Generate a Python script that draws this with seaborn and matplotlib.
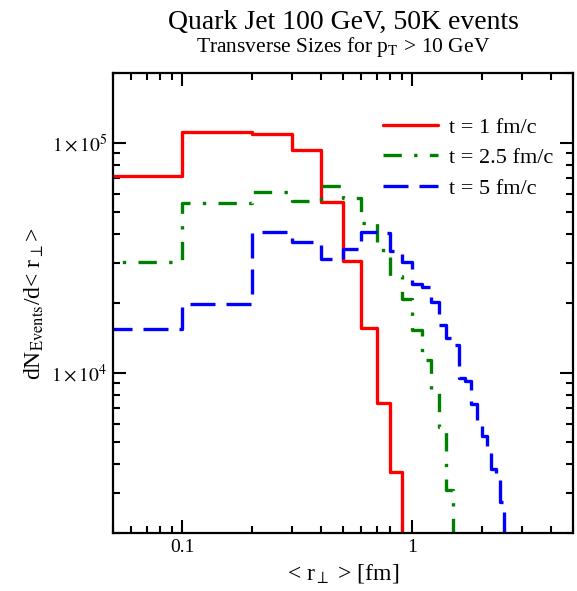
import numpy as np
import pandas as pd
import matplotlib
matplotlib.use('Agg')
import matplotlib.pyplot as plt
import matplotlib.ticker as mticker
import seaborn as sns

# histogram bin edges (width 0.1 fm)
edges = [0.0, 0.1, 0.2, 0.3, 0.4, 0.5, 0.6, 0.7, 0.8, 0.9, 1.0, 1.1, 1.2, 1.3,
         1.4, 1.5, 1.6, 1.7, 1.8, 1.9, 2.0, 2.1, 2.2, 2.3, 2.4, 2.5, 2.6]

labels = ['t = 1 fm/c', 't = 2.5 fm/c', 't = 5 fm/c']

# dN/d<r> per bin
red_vals = [71800, 111200, 109000, 93000, 55000, 30500, 15600, 7400, 3690, 1000]
green_vals = [30200, 54500, 60800, 55600, 64900, 57400, 44600, 34000, 26200,
              20800, 15300, 11300, 8200, 5800, 3080, 1000]
blue_vals = [15500, 19900, 40800, 36900, 31300, 34500, 41000, 40300, 33700,
             30100, 24200, 23600, 20200, 16100, 14100, 13200, 9500, 9150,
             7300, 5900, 5280, 4630, 3790, 3600, 2730, 1000]

rows = []
for lab, vals in zip(labels, [red_vals, green_vals, blue_vals]):
    xs = edges[:len(vals) + 1]
    ys = vals + [vals[-1]]
    for x, y in zip(xs, ys):
        rows.append({'r': x, 'dN': y, 't': lab})
df = pd.DataFrame(rows)

sns.set_theme(style='ticks')
plt.rcParams['font.family'] = ['Liberation Serif', 'DejaVu Serif']
plt.rcParams['mathtext.fontset'] = 'stix'
plt.rcParams['text.color'] = 'black'
plt.rcParams['axes.labelcolor'] = 'black'

fig = plt.figure(figsize=(5.77, 5.91), dpi=100)
ax = fig.add_axes([0.196, 0.0976, 0.7976, 0.7784])

palette = {labels[0]: '#ff0000', labels[1]: '#008000', labels[2]: '#0000ff'}
dashes = {labels[0]: '', labels[1]: (5.5, 3.7, 1, 3.7), labels[2]: (7.5, 3.3)}
sns.lineplot(data=df, x='r', y='dN', hue='t', style='t', hue_order=labels,
             style_order=labels, palette=palette, dashes=dashes,
             drawstyle='steps-post', estimator=None, sort=False,
             linewidth=2.4, legend=False, ax=ax)

ax.set_xscale('log')
ax.set_yscale('log')
ax.set_xlim(0.05, 5)
ax.set_ylim(2000, 2e5)

ax.xaxis.set_major_formatter(mticker.FuncFormatter(lambda v, p: f'{v:g}'))
ax.xaxis.set_minor_formatter(mticker.NullFormatter())
ax.yaxis.set_major_formatter(mticker.FuncFormatter(
    lambda v, p: r'$1\times10^{%d}$' % round(np.log10(v))))
ax.yaxis.set_minor_formatter(mticker.NullFormatter())

ax.tick_params(which='both', direction='in', top=True, right=True,
               width=1.5, labelsize=14, pad=4, colors='black')
ax.tick_params(which='major', length=9.5)
ax.tick_params(which='minor', length=5)
for s in ax.spines.values():
    s.set_linewidth(1.6)
    s.set_color('black')

ax.set_xlabel(r'< r$_{\perp}$ > [fm]', fontsize=17, labelpad=4.5, color='black')
ax.set_ylabel(r'dN$_{\mathrm{Events}}$/d< r$_{\perp}$>', fontsize=17, labelpad=4,
              color='black')

fig.text(0.595, 0.9518, 'Quark Jet 100 GeV, 50K events', ha='center',
         va='baseline', fontsize=20, color='black')
fig.text(0.595, 0.9112, r'Transverse Sizes for p$_{\mathrm{T}}$ > 10 GeV',
         ha='center', va='baseline', fontsize=15.5, color='black')

leg = ax.legend(ax.lines[:3], labels, loc='upper left',
                bbox_to_anchor=(0.586, 0.905), frameon=False, fontsize=16,
                handlelength=2.5, handletextpad=0.5, labelspacing=0.45,
                borderpad=0, borderaxespad=0)
for t in leg.get_texts():
    t.set_color('black')

fig.savefig('out.png', dpi=100)
